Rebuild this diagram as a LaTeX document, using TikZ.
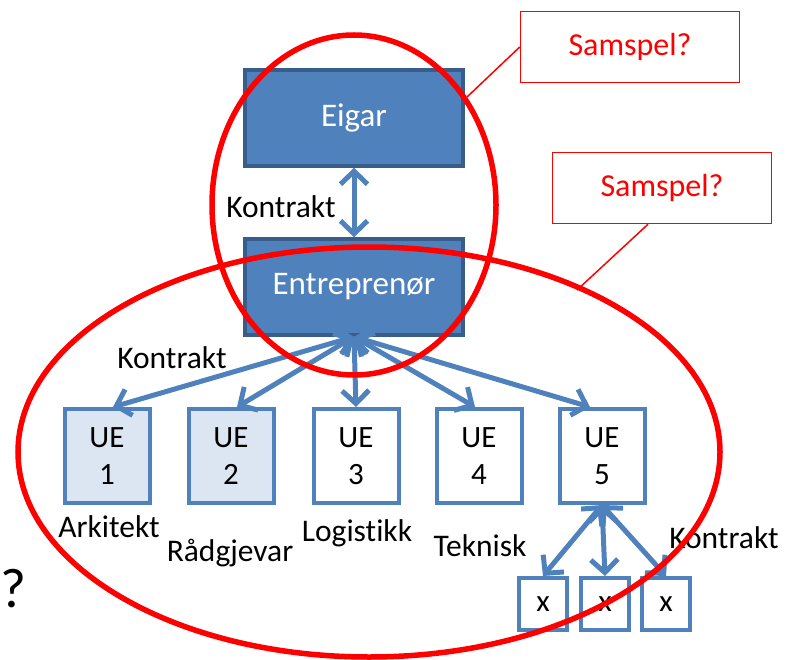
\documentclass[tikz,border=0pt]{standalone}
\usepackage{fontspec}
\setmainfont[Ligatures=CommonOff]{Carlito}
\usetikzlibrary{positioning}
\usetikzlibrary{arrows.meta}
\definecolor{blaa}{RGB}{79,129,189}
\definecolor{moerkblaa}{RGB}{56,93,138}
\definecolor{lysblaa}{RGB}{220,230,242}
\definecolor{raud}{RGB}{255,0,0}
\tikzset{
  organisasjon/.style={
    x=1pt, y=-1pt,
    hovud/.style={rectangle, draw=moerkblaa, fill=blaa, line width=3.5pt,
        minimum width=218pt, minimum height=96pt, text=white,
        font={\fontsize{33}{36}\selectfont}},
    ue/.style={rectangle, draw=blaa, line width=4pt, minimum width=85pt,
        minimum height=94pt, align=center,
        font={\fontsize{31}{37}\selectfont}},
    xboks/.style={rectangle, draw=blaa, fill=white, line width=4pt,
        minimum width=48pt, minimum height=52pt,
        font={\fontsize{31}{36}\selectfont}},
    tekst/.style={font={\fontsize{31.5}{36}\selectfont}, inner sep=0pt},
    merknad/.style={rectangle, draw=raud, line width=1.5pt, text=raud,
        minimum width=219pt, minimum height=71pt,
        font={\fontsize{32}{36}\selectfont}},
    pil/.style={draw=blaa, line width=5pt, line cap=round,
        {Straight Barb[length=13pt,width=27pt]}-{Straight Barb[length=13pt,width=27pt]}},
    ring/.style={draw=raud, line width=5.5pt},
    strek/.style={draw=raud, line width=1.5pt},
  }
}

\begin{document}
\begin{tikzpicture}[organisasjon]
    \useasboundingbox (0,0) rectangle (797,660);

    \node[hovud] (eigar) at (354,118) {Eigar};
    \node[hovud] (entreprenor) at (354,287) {Entreprenør};

    \foreach \i/\x/\f in {1/107/lysblaa,2/231/lysblaa,3/356/white,4/479/white,5/602/white}
        \node[ue, fill=\f] (ue\i) at (\x,456) {UE\\\i};
    \foreach \i/\x in {1/543,2/605,3/666}
        \node[xboks] (x\i) at (\x,604) {x};

    \node[tekst] (arkitekt) at (109,527) {Arkitekt};
    \node[tekst] (radgjevar) at (230,553) {Rådgjevar};
    \node[tekst] (logistikk) at (357,533) {Logistikk};
    \node[tekst] (teknisk) at (480,546) {Teknisk};
    \node[tekst] (kontrakt1) at (281,207) {Kontrakt};
    \node[tekst] (kontrakt2) at (172,358) {Kontrakt};
    \node[tekst] (kontrakt3) at (724,538) {Kontrakt};
    \node[font={\fontsize{56}{60}\selectfont}, inner sep=0pt] (spm) at (13,589) {?};

    \draw[pil] (eigar) -- (entreprenor);
    \foreach \i/\d in {1/6,2/6,3/0,4/-4,5/-12}
        \draw[pil] (entreprenor.south) -- ([xshift=\d pt]ue\i.north);
    \foreach \i in {1,2,3}
        \draw[pil] (ue5.south) -- (x\i.north);

    \draw[ring] (354,205) ellipse [x radius=142pt, y radius=170pt];
    \draw[ring] (369,452) ellipse [x radius=351pt, y radius=205pt];

    \node[merknad] (samspel1) at (630,47) {Samspel?};
    \node[merknad] (samspel2) at (662,188) {Samspel?};
    \coordinate (ring1) at (467,97);
    \coordinate (ring2) at (577,290);
    \draw[strek] (samspel1.west) -- (ring1);
    \draw[strek] ([xshift=-14pt]samspel2.south) -- (ring2);
\end{tikzpicture}
\end{document}
